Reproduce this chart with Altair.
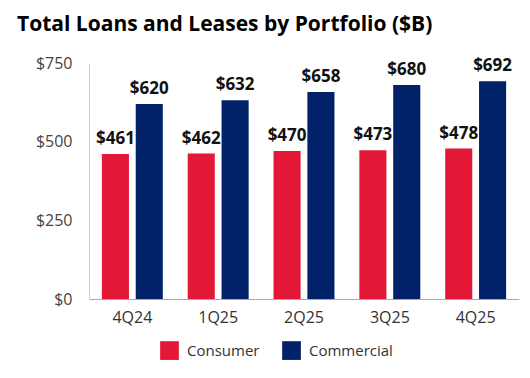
import altair as alt
import pandas as pd

quarters = ["4Q24", "1Q25", "2Q25", "3Q25", "4Q25"]
consumer = [461, 462, 470, 473, 478]
commercial = [620, 632, 658, 680, 692]
series = ["Consumer", "Commercial"]
colors = ["#E31837", "#012169"]

rows = []
for i, q in enumerate(quarters):
    rows.append({"quarter": q, "portfolio": "Consumer", "value": consumer[i]})
    rows.append({"quarter": q, "portfolio": "Commercial", "value": commercial[i]})
df = pd.DataFrame(rows)
df["label"] = "$" + df["value"].astype(str)

FONT = "Open Sans"

x = alt.X("quarter:N", sort=quarters, title=None,
          scale=alt.Scale(paddingInner=0.29, paddingOuter=0.15),
          axis=alt.Axis(labelAngle=0, ticks=False, domainColor="#aaaaaa",
                        labelFontSize=16, labelColor="#333333", labelFont=FONT,
                        labelPadding=10))
xo = alt.XOffset("portfolio:N", sort=series, scale=alt.Scale(paddingInner=0.2))
y = alt.Y("value:Q", title=None,
          scale=alt.Scale(domain=[0, 750]),
          axis=alt.Axis(values=[0, 250, 500, 750], labelExpr="'$' + datum.value",
                        ticks=False, grid=False, domainColor="#cccccc",
                        labelFontSize=16, labelColor="#444444", labelFont=FONT,
                        labelPadding=17))

base = alt.Chart(df)
bars = base.mark_bar().encode(
    x=x, xOffset=xo, y=y,
    color=alt.Color("portfolio:N", sort=series,
                    scale=alt.Scale(domain=series, range=colors),
                    legend=alt.Legend(title=None, orient="none", direction="horizontal",
                                      legendX=71, legendY=278,
                                      symbolType="square", symbolSize=350,
                                      symbolStrokeWidth=0,
                                      labelFontSize=15, labelFont=FONT,
                                      labelColor="#333333", columnPadding=22,
                                      labelOffset=8)),
)
labels = base.mark_text(baseline="bottom", dy=-6, fontSize=17, fontWeight="bold",
                        font=FONT, color="#111111").encode(
    x=x, xOffset=xo, y=y, text="label:N")

chart = (bars + labels).properties(
    width=430, height=236,
    autosize=alt.AutoSizeParams(type="none"),
    padding={"left": 81, "top": 55, "right": 3, "bottom": 71},
    title=alt.TitleParams("Total Loans and Leases by Portfolio ($B)", anchor="start",
                          frame="group",
                          font=FONT, fontSize=21, fontWeight="bold", color="#000000",
                          dx=-72, offset=20),
).configure_view(stroke=None)

chart.save("out.html", embed_options={"renderer": "svg", "actions": False})
